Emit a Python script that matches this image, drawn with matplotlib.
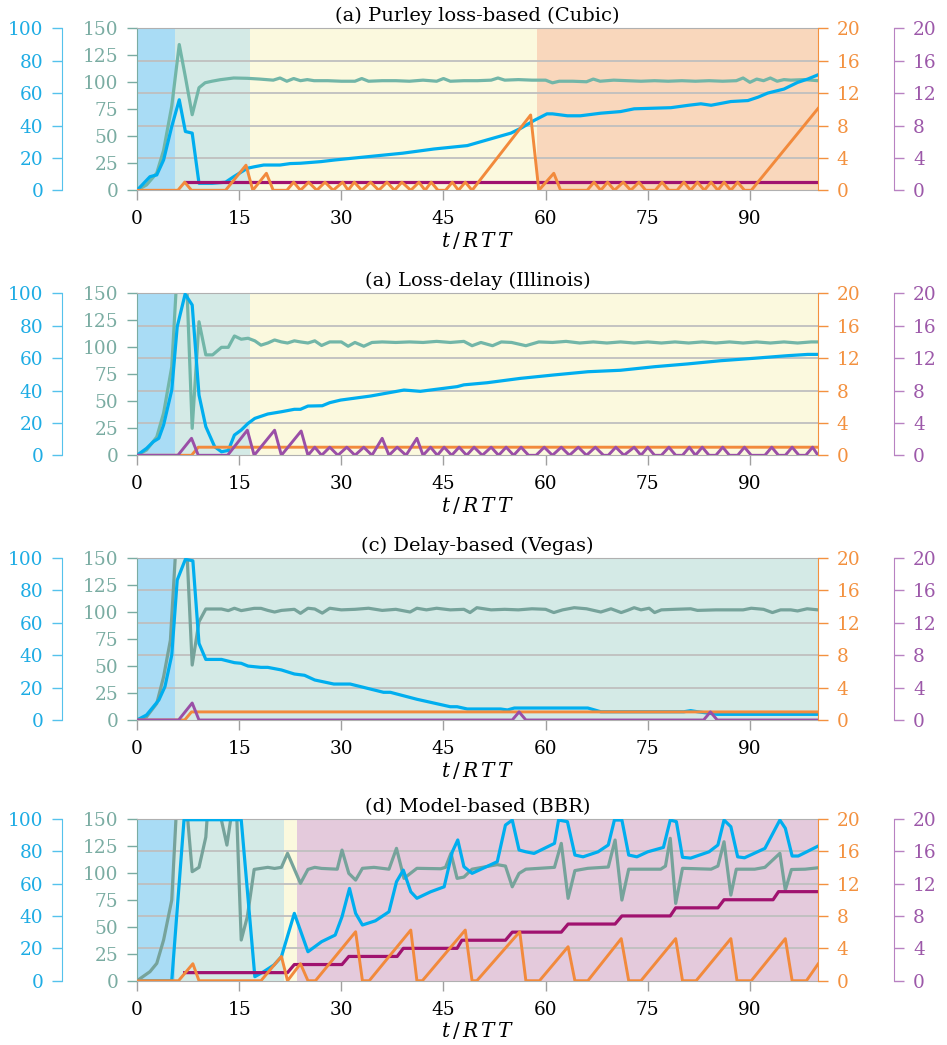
import numpy as np
import matplotlib
matplotlib.use("Agg")
import matplotlib.pyplot as plt
from matplotlib.ticker import MultipleLocator

plt.rcParams['font.family'] = ['DejaVu Serif']
plt.rcParams['mathtext.fontset'] = 'dejavuserif'

# ---------------- data ----------------
titles = ["(a) Purley loss-based (Cubic)", "(a) Loss-delay (Illinois)",
          "(c) Delay-based (Vegas)", "(d) Model-based (BBR)"]
xticks = [0, 15, 30, 45, 60, 75, 90]

# background phases: (start, end, colour key)
phases1 = [(0, 5.6, 'blue'), (5.6, 16.6, 'teal'), (16.6, 58.7, 'yellow'), (58.7, 100, 'orange')]
phases2 = [(0, 5.6, 'blue'), (5.6, 16.6, 'teal'), (16.6, 100, 'yellow')]
phases3 = [(0, 5.6, 'blue'), (5.6, 100, 'teal')]
phases4 = [(0, 5.6, 'blue'), (5.6, 21.6, 'teal'), (21.6, 23.5, 'yellow'), (23.5, 100, 'pink')]

# ---- panel 1 (Cubic) ----
p1_teal = [(0, 0), (1.4, 5), (2.9, 16), (3.9, 37), (5.1, 78), (6.2, 135), (7.1, 105), (8.1, 70), (9.1, 95),
           (10, 99.6), (11, 101), (12.2, 102.4), (14.2, 104), (16.2, 103.7), (18, 103), (20, 102), (21, 104),
           (22, 101), (23, 103.5), (24, 101.5), (25, 102.5), (26, 101.5), (28, 101.5), (30, 101), (32, 101),
           (33, 103.5), (34, 101), (36, 101.5), (38, 101.5), (40, 101), (42, 102), (44, 101), (45, 103.5),
           (46, 101), (48, 101.5), (50, 101.5), (52, 102), (53, 104), (54, 102), (56, 102.5), (58, 102),
           (60, 102), (61, 99.5), (62, 101), (64, 101), (66, 100.5), (67, 103), (68, 101), (70, 102),
           (72, 101.5), (74, 101), (76, 101.5), (78, 101), (80, 101.5), (82, 101), (84, 101.5), (86, 101),
           (88, 101.5), (89, 104), (90, 100), (91, 103), (92, 101.5), (93, 104), (94, 101), (95, 102.5),
           (96, 102), (98, 102.5), (100, 101.5)]
p1_cyan = [(0, 0), (1.9, 8.4), (2.9, 9.5), (3.9, 18.7), (5.1, 39.4), (6.2, 55.9), (7.1, 36.3), (8.1, 35.3),
           (9.1, 4.3), (11, 4.3), (13, 5), (14.2, 8.4), (16.2, 13.6), (17.2, 14.5), (18.6, 15.6), (21, 15.6),
           (22.5, 16.5), (24, 16.7), (27, 17.7), (29, 18.7), (34, 20.8), (39, 22.9), (43.6, 25.5),
           (48.5, 27.6), (51.4, 31.1), (54.9, 35.3), (56.4, 38.4), (58.3, 43.1), (60.2, 47.2), (61, 47.2),
           (63.2, 46), (65.1, 46), (68.1, 47.6), (71, 48.6), (73, 50.3), (76, 50.7), (78.4, 51), (81, 52.5),
           (82.8, 53.4), (84.3, 52.5), (87.2, 54.8), (89.7, 55.4), (91.2, 57.5), (92.6, 60), (95, 62.5),
           (97, 66.6), (98.5, 68.7), (100, 71.3)]
p1_orange = [(0, 0), (6, 0), (7, 1), (8, 0), (13, 0), (16, 3.1), (17, 0), (19, 2.1), (20, 0), (22, 0), (23, 1),
             (24, 0), (25.2, 1), (26.4, 0), (27.6, 1), (28.8, 0), (30.2, 1), (31, 0), (31.9, 1), (33, 0),
             (34.3, 1), (35.5, 0), (36.7, 1), (37.8, 0), (38.9, 1), (40.2, 0), (41.4, 1), (42.3, 0), (43.2, 1),
             (44.2, 0), (45.3, 0), (46.3, 1), (47.2, 0), (48.2, 1), (49.2, 0), (57.8, 9.3), (59, 0), (61.2, 2.1),
             (62.2, 0), (66.1, 0), (67.1, 1), (68.1, 0), (69.1, 1), (70.1, 0), (71.4, 1), (72.5, 0), (73.7, 1),
             (74.7, 0), (76.1, 0), (77.1, 1), (78.1, 0), (79.3, 0), (80.3, 1), (81.3, 0), (82.3, 1), (83.3, 0),
             (84.3, 1), (85.3, 0), (86.2, 1), (87.2, 0), (88.2, 1), (89.2, 0), (90.2, 0), (100, 10.1)]
p1_magenta = [(7, 1), (100, 1)]
p1_violet = []

# ---- panel 2 (Illinois) ----
p2_teal = [(0, 0), (1.4, 4.9), (2.9, 17), (3.9, 39), (5.1, 82), (5.8, 160), (7.3, 160), (8.1, 25), (9.1, 123.7),
           (10.1, 93), (11.1, 93), (12.4, 100), (13.4, 100), (14.3, 110.5), (15.3, 107.5), (16.3, 108.4),
           (17.3, 106), (18.2, 102), (19.2, 104), (20.2, 106.8), (21.2, 105), (22.1, 104), (23.1, 106),
           (24, 105), (25.1, 104), (26.1, 106), (27.1, 101.7), (28.3, 105), (30, 105), (31, 101), (32, 104.5),
           (33.3, 101), (34.5, 104.5), (36, 105), (38, 104.5), (40, 105), (42, 104.5), (44, 105.5), (46, 104.5),
           (48, 105.5), (49.2, 101.5), (50.5, 104.5), (52.2, 101.5), (53.5, 105), (55, 104.5), (57.1, 101.5),
           (59, 105), (61, 104.5), (63, 105.5), (65, 104), (67, 105), (69, 104), (71, 105), (73, 104),
           (75, 105), (77, 104), (79, 105), (81, 104), (83, 105), (85, 104), (87, 105), (89, 104), (91, 105),
           (93, 104), (95, 105), (97, 104), (99, 105), (100, 105)]
p2_cyan = [(0, 0), (1.4, 4.3), (2.4, 8.4), (3.2, 10.5), (3.9, 18.7), (5.1, 40.3), (5.9, 79.4), (7.06, 99.5),
           (8.1, 92.8), (9.1, 37.2), (10.1, 17.7), (11.4, 5.3), (12.4, 2.2), (13.4, 3), (14.3, 12.5),
           (15.3, 15.6), (16.3, 19.7), (17.3, 22.8), (19.2, 25.5), (21.2, 26.9), (23.1, 28.4), (24, 28.4),
           (25.1, 30.4), (27.2, 30.6), (28.3, 32.5), (29.9, 34.1), (34.3, 36.6), (39.2, 40.3), (41.6, 39.5),
           (47, 42.4), (48, 43.5), (51.4, 44.8), (56.3, 47.5), (61.2, 49.6), (66.2, 51.6), (71, 52.5),
           (76, 54.7), (80.8, 56.4), (85.7, 58.4), (90.6, 59.9), (95.5, 61.5), (98.5, 62.3), (100, 62.3)]
p2_orange = [(0, 0), (8, 0), (9, 1), (100, 1)]
p2_magenta = []
p2_violet = [(0, 0), (6, 0), (8, 2.1), (9, 0), (13.3, 0), (16.2, 3.1), (17.2, 0), (20.2, 3.1), (21.2, 0),
             (24.1, 3), (25.1, 0), (26.1, 1), (27.1, 0), (28.3, 1), (29.5, 0), (30.8, 1), (32, 0), (33.3, 1),
             (34.5, 0), (36, 2.1), (37, 0), (38.2, 1), (39.5, 0), (41.1, 2.1), (42, 0), (43.1, 1), (44.1, 0),
             (45.1, 1), (46.2, 0), (47.3, 1), (48.4, 0), (49.5, 1), (50.7, 0), (52, 1), (53.1, 0), (54.2, 1),
             (55.3, 0), (56.4, 1), (57.5, 0), (58.6, 0), (59.8, 1), (61, 0), (62.3, 1), (63.5, 0), (64.8, 1),
             (66, 0), (67.3, 1), (68.5, 0), (69.2, 0), (70.3, 1), (71.5, 0), (73, 1), (74, 0), (75, 1), (76, 0),
             (77, 0), (78.1, 1), (79.1, 0), (80.1, 0), (81.1, 1), (82, 0), (83, 1), (84, 0), (85, 0), (86, 1),
             (87, 0), (88.2, 0), (89.2, 1), (90.2, 0), (92.2, 0), (93.2, 1), (94.2, 0), (95.2, 0), (96.2, 1),
             (97.2, 0), (98.2, 0), (99.2, 1), (100, 0)]

# ---- panel 3 (Vegas) ----
p3_teal = [(0, 0), (1.4, 3), (2.9, 15.4), (3.9, 40), (4.9, 74), (5.7, 160), (7.3, 160), (8.1, 50.9), (9.1, 91),
           (10.1, 102.8), (12.4, 102.8), (13.4, 101.3), (14.3, 103.5), (15.3, 101.3), (17.2, 103.4),
           (18.2, 103.4), (19.2, 101.5), (20.2, 100), (21.2, 101.5), (23.1, 102.5), (24, 98.8), (25.1, 103.5),
           (26.1, 102.8), (27.2, 99), (28.3, 103.5), (30, 102), (32, 102.5), (34, 103.5), (36, 101.5),
           (38, 102.5), (40.1, 100), (41.1, 103.5), (42.5, 102), (44, 103.5), (46, 102), (48, 102.5),
           (48.9, 99.5), (49.9, 104), (52, 102), (54, 102.5), (56, 102), (58, 103), (60, 102.5), (61.2, 99.5),
           (62.5, 102), (64.2, 104), (66, 103), (68.1, 100), (69.6, 103), (71.1, 99.5), (72, 101.5), (73, 104),
           (74, 102), (75.2, 103.5), (76, 99.5), (77, 102), (79, 102.5), (81.3, 103), (82.3, 101.5),
           (85, 102), (87, 102), (89, 102), (90.2, 103.5), (92, 102.5), (93.3, 99.5), (94.5, 102), (96, 102),
           (97, 101), (98.4, 103), (100, 102)]
p3_cyan = [(0, 0), (1.4, 3.1), (2.4, 8.2), (3.2, 12.3), (4.1, 20.6), (5.1, 40.1), (5.9, 86.4), (7.1, 99.2),
           (8.2, 98.3), (9.1, 47.3), (10.1, 37.4), (12.4, 37.4), (14.3, 35.4), (15.3, 35), (16.3, 33.3),
           (18.2, 32.5), (19.2, 32.5), (21.2, 30.9), (23.1, 28.4), (24.6, 27.6), (26.1, 24.7), (28.9, 22.2),
           (31.3, 22.2), (36.2, 17.1), (37.2, 17.1), (41.1, 12.8), (46, 8.2), (47, 8.2), (48.5, 6.8),
           (53.4, 6.8), (54.4, 6.2), (55.4, 7.4), (66.2, 7.4), (68.1, 5.1), (80.3, 5.1), (81.3, 5.8),
           (82.3, 5.1), (85.2, 3.5), (100, 3.5)]
p3_orange = [(0, 0), (7, 0), (8, 1), (100, 1)]
p3_magenta = []
p3_violet = [(0, 0), (6.1, 0), (8.1, 2.1), (9.1, 0), (55.1, 0), (56.1, 1), (57.1, 0), (83.2, 0), (84.2, 1),
             (85.2, 0), (100, 0)]

# ---- panel 4 (BBR) ----
p4_teal = [(0, 0), (1.9, 8.4), (2.9, 16.1), (3.9, 37.7), (5.1, 74.7), (5.8, 160), (7.3, 160), (8.1, 101),
           (9.1, 105), (10.1, 133), (10.4, 160), (12, 160), (13.2, 125.6), (14, 160), (14.6, 160),
           (15.3, 37.7), (16.2, 59.3), (17.2, 103.1), (19.2, 105), (20.2, 104), (21.2, 105), (22.1, 118),
           (24, 90.2), (25.1, 103.1), (26.1, 105), (27.1, 104), (29.4, 103.3), (30.1, 121), (31.1, 99.4),
           (32.1, 93.2), (33.1, 104.1), (34.8, 105), (37, 103.3), (38.1, 122.6), (39.2, 94.8), (41.1, 104.1),
           (44.6, 103.7), (45.3, 105), (46.1, 118), (47, 94.8), (48, 96), (49.2, 103.3), (52.9, 107.5),
           (54.1, 106.2), (55.1, 87), (56.1, 99.4), (57.1, 103.3), (61.3, 105), (62.3, 127.2), (63.3, 76.3),
           (64.3, 102), (66.2, 104.1), (69.2, 105.3), (70.2, 130.3), (71.2, 74.7), (72.2, 103.3),
           (76.9, 103.3), (77.6, 106.2), (78.3, 131.9), (79.1, 71.6), (80.1, 104.1), (84.3, 103.3),
           (85.3, 106.2), (86.2, 128.7), (87.2, 79.3), (88, 103.3), (90.7, 103.3), (92.2, 105), (94.4, 118),
           (95.2, 84), (96.1, 103), (98.1, 103.3), (100, 104.6)]
p4_cyan = [(0, 0), (5.1, 0), (6.9, 99.4), (15.3, 99.4), (17.3, 2.5), (18.6, 5.6), (20.1, 9.7), (21.2, 14.8),
           (23.1, 41.6), (25.1, 17.9), (27.1, 24.1), (29.1, 28.2), (30.1, 39.5), (31.2, 57), (32.1, 41.6),
           (33.1, 34.4), (35, 37), (37, 42.6), (38.1, 61.1), (39.1, 68.3), (40.2, 54.9), (41.1, 50.9),
           (43.1, 54.9), (45.1, 58), (46.3, 79.6), (47.1, 86.9), (48, 70.4), (49.2, 66.3), (52.9, 73.5),
           (54.1, 96.1), (55.1, 99.2), (56.1, 80.7), (57.1, 79.6), (58.3, 78.6), (61.3, 84.8), (61.9, 99.2),
           (63.2, 98.2), (64.3, 77.6), (65.5, 76.5), (67.7, 79.6), (69.2, 83.8), (70.1, 99.2), (71.2, 99.2),
           (72.2, 77.6), (73.4, 76.5), (75, 79.6), (77.3, 82.3), (78.3, 99.2), (79.2, 98.2), (80.1, 76.2),
           (81.3, 75.7), (84, 79.6), (85.3, 83.8), (86.2, 99.2), (87.2, 95.1), (88.2, 76.5), (89.2, 75.9),
           (92.2, 81.7), (94.4, 99.2), (95.2, 94.1), (96.2, 77), (97.1, 77), (100, 83.1)]
p4_orange = [(0, 0), (6.1, 0), (8.2, 2.1), (9.1, 0), (18.2, 0), (21.2, 3), (22.1, 0), (24, 2.1), (25.1, 0),
             (26.2, 0), (32.1, 6.05), (33.1, 0), (34.1, 0), (40.2, 6.26), (41.1, 0), (41.9, 0), (48.2, 6.26),
             (49.2, 0), (49.9, 0), (56.2, 6.05), (57.1, 0), (59.1, 0), (63.3, 4.2), (64.3, 0), (66.2, 0),
             (71.1, 5.2), (72.2, 0), (74, 0), (79.1, 5.2), (80.1, 0), (82.1, 0), (87.2, 5.2), (88.1, 0),
             (90.2, 0), (95.2, 5.2), (96.2, 0), (98.3, 0), (100, 2.06)]
p4_magenta = [(7, 1), (22.1, 1), (23.1, 2), (30.1, 2), (31.1, 3), (38.2, 3), (39.1, 4), (47, 4), (47.7, 5),
              (54.1, 5), (55.1, 6), (62.3, 6), (63.3, 7), (70.2, 7), (71.2, 8), (78.3, 8), (79.1, 9), (85.3, 9),
              (86.2, 10), (93.4, 10), (94.2, 11), (100, 11)]
p4_violet = []

panels = [
    (titles[0], phases1, p1_teal, p1_cyan, p1_magenta, p1_orange, p1_violet, '#72b6a8'),
    (titles[1], phases2, p2_teal, p2_cyan, p2_magenta, p2_orange, p2_violet, '#72b6a8'),
    (titles[2], phases3, p3_teal, p3_cyan, p3_magenta, p3_orange, p3_violet, '#76a39b'),
    (titles[3], phases4, p4_teal, p4_cyan, p4_magenta, p4_orange, p4_violet, '#76a39b'),
]

# ---------------- style ----------------
bg = {'blue': '#a9dcf5', 'teal': '#d4eae6', 'yellow': '#fbf9de', 'orange': '#f9d7bc', 'pink': '#e4cadc'}
C_CYAN = '#00aeef'
C_ORANGE = '#f28a3c'
C_MAG = '#a0126f'
C_VIO = '#9a4fa7'
L_CYAN = '#1eace4'
L_TEAL = '#7aaca2'
L_ORANGE = '#f3913f'
L_PURPLE = '#9c58a9'
GRID = '#bfbfbf'
FS = 13.3
TL = 7.5
PAD = 6

fig = plt.figure(figsize=(9.47, 10.45), dpi=100)
left, width, height = 0.1447, 0.7191, 0.155
bottoms = [0.8179, 0.5643, 0.311, 0.0615]


def xy(pairs):
    a = np.array(pairs, dtype=float)
    return a[:, 0], a[:, 1]


def only_spine(a, side):
    for s in ['top', 'bottom', 'left', 'right']:
        a.spines[s].set_visible(s == side)


for (title, phases, teal, cyan, mag, orng, vio, c_teal), b in zip(panels, bottoms):
    ax = fig.add_axes([left, b, width, height])
    ax.set_xlim(0, 100)
    ax.set_ylim(0, 150)
    for x0, x1, key in phases:
        ax.axvspan(x0, x1, color=bg[key], lw=0, zorder=0)
    ax.set_axisbelow(True)
    ax.yaxis.set_major_locator(MultipleLocator(25))
    ax.yaxis.set_minor_locator(MultipleLocator(30))
    ax.grid(True, which='minor', axis='y', color=GRID, lw=1.3)
    ax.tick_params(axis='y', which='minor', length=0)
    ax.tick_params(axis='y', which='major', direction='out', length=TL, width=1,
                   color=L_TEAL, labelcolor=L_TEAL, labelsize=FS, pad=PAD)
    ax.set_xticks(xticks)
    ax.tick_params(axis='x', direction='out', length=TL, width=1, color='#a0a0a0',
                   labelcolor='black', labelsize=FS, pad=7)
    ax.spines['top'].set_color('#b0b0b0')
    ax.spines['bottom'].set_color('#b0b0b0')
    ax.spines['left'].set_color(L_TEAL)
    ax.spines['right'].set_visible(False)
    ax.set_title(title, fontsize=14, pad=5)
    ax.set_xlabel(r'$t\,/\,R\,T\,T$', fontsize=14.5, labelpad=1)
    tx, ty = xy(teal)
    ax.plot(tx, ty, color=c_teal, lw=2.3, zorder=2)

    # cyan axis (left, outward)
    axc = ax.twinx()
    axc.set_ylim(0, 100)
    axc.yaxis.tick_left()
    axc.spines['left'].set_position(('outward', 54))
    only_spine(axc, 'left')
    axc.spines['left'].set_color('#55c2ec')
    axc.yaxis.set_major_locator(MultipleLocator(20))
    axc.tick_params(axis='y', direction='out', length=TL, width=1, color='#55c2ec',
                    labelcolor=L_CYAN, labelsize=FS, pad=PAD)
    cx, cy = xy(cyan)
    axc.plot(cx, cy, color=C_CYAN, lw=2.3)

    # hidden magenta axis (same 0-20 scale as purple axis)
    axm = ax.twinx()
    axm.set_ylim(0, 20)
    axm.axis('off')
    if mag:
        mx, my = xy(mag)
        axm.plot(mx, my, color=C_MAG, lw=2.3)

    # orange axis (right)
    axo = ax.twinx()
    axo.set_ylim(0, 20)
    only_spine(axo, 'right')
    axo.spines['right'].set_color(L_ORANGE)
    axo.yaxis.set_major_locator(MultipleLocator(4))
    axo.tick_params(axis='y', direction='out', length=TL, width=1, color=L_ORANGE,
                    labelcolor=L_ORANGE, labelsize=FS, pad=PAD)
    ox, oy = xy(orng)
    axo.plot(ox, oy, color=C_ORANGE, lw=2.1)

    # purple axis (right, outward)
    axp = ax.twinx()
    axp.set_ylim(0, 20)
    only_spine(axp, 'right')
    axp.spines['right'].set_position(('outward', 55))
    axp.spines['right'].set_color('#b882c2')
    axp.yaxis.set_major_locator(MultipleLocator(4))
    axp.tick_params(axis='y', direction='out', length=TL, width=1, color='#b882c2',
                    labelcolor=L_PURPLE, labelsize=FS, pad=PAD)
    if vio:
        vx, vy = xy(vio)
        axp.plot(vx, vy, color=C_VIO, lw=2.1)

fig.savefig('out.png', dpi=100)
